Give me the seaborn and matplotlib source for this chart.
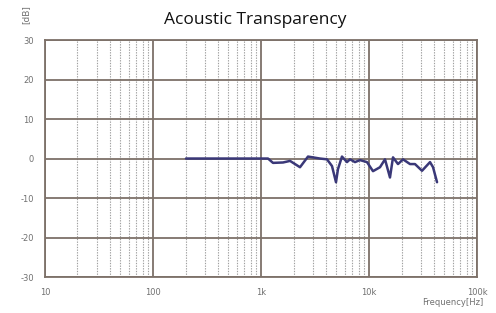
import matplotlib
matplotlib.use("Agg")
import matplotlib.pyplot as plt
import seaborn as sns
import pandas as pd
from matplotlib.ticker import FixedLocator, NullFormatter, LogLocator

freq_hz = [202, 1161, 1292, 1600, 1857, 2297, 2724, 3517, 4084, 4543, 4947, 5160,
           5620, 6255, 6668, 7420, 8255, 9580, 10890, 12640, 14060, 15640, 16680,
           18560, 20650, 23970, 26660, 30960, 36730, 39170, 42660]
level_db = [0.0, 0.0, -1.1, -1.0, -0.6, -2.2, 0.5, 0.0, -0.2, -1.9, -6.0, -2.7,
            0.5, -0.9, -0.2, -0.9, -0.4, -0.9, -3.2, -2.2, -0.2, -4.8, 0.3,
            -1.4, -0.2, -1.4, -1.4, -3.1, -0.9, -2.2, -6.0]
x_ticks = [10, 100, 1000, 10000, 100000]
x_labels = ["10", "100", "1k", "10k", "100k"]
y_ticks = [-30, -20, -10, 0, 10, 20, 30]

df = pd.DataFrame({"freq": freq_hz, "db": level_db})

sns.set_style("white")
plt.rcParams['font.family'] = ['DejaVu Sans']

fig = plt.figure(figsize=(4.96, 3.13), dpi=100)
ax = fig.add_axes([0.0907, 0.115, 0.871, 0.757])

sns.lineplot(data=df, x="freq", y="db", ax=ax, color="#3a3878", linewidth=1.8)

ax.set_xscale("log")
ax.set_xlim(10, 100000)
ax.set_ylim(-30, 30)
ax.xaxis.set_major_locator(FixedLocator(x_ticks))
ax.set_xticklabels(x_labels)
ax.xaxis.set_minor_locator(LogLocator(base=10, subs=range(2, 10)))
ax.xaxis.set_minor_formatter(NullFormatter())
ax.set_yticks(y_ticks)
ax.set_yticklabels([str(v) for v in y_ticks])

ax.grid(True, which="major", color="#7d7169", linewidth=1.3, linestyle="-")
ax.grid(True, which="minor", axis="x", color="#a0a0a0", linewidth=0.8, linestyle=(0, (1.2, 1.2)))
ax.set_axisbelow(True)
for s in ax.spines.values():
    s.set_color("#7d7169")
    s.set_linewidth(1.3)

ax.tick_params(axis="both", which="both", length=0, labelsize=6, colors="#707070", pad=8)
ax.set_xlabel("")
ax.set_ylabel("")

fig.text(0.515, 0.935, "Acoustic Transparency", ha="center", va="center", fontsize=12.5,
         color="#111111", family=["Open Sans", "DejaVu Sans"])
fig.text(0.052, 0.952, "[dB]", rotation=90, ha="center", va="center", fontsize=6.5, color="#707070")
fig.text(0.975, 0.033, "Frequency[Hz]", ha="right", va="center", fontsize=6, color="#707070")

fig.savefig("out.png", dpi=100)
